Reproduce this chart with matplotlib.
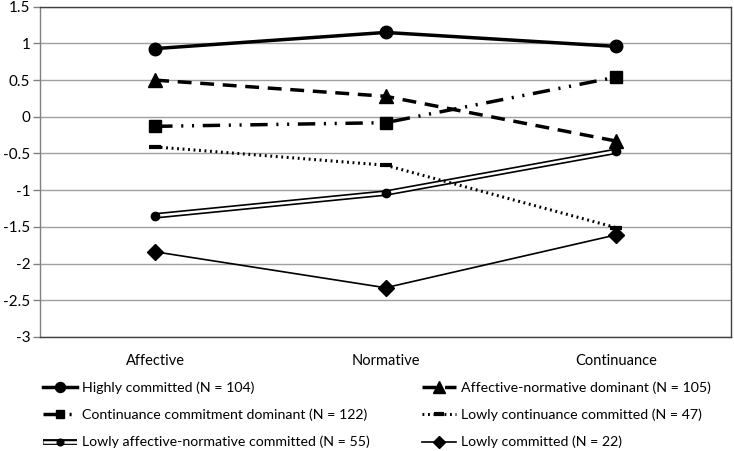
import matplotlib
matplotlib.use("Agg")
import matplotlib.pyplot as plt
from matplotlib.legend_handler import HandlerTuple

plt.rcParams['font.family'] = ['Lato', 'DejaVu Sans']

categories = ["Affective", "Normative", "Continuance"]
highly = [0.93, 1.15, 0.96]
aff_norm_dom = [0.50, 0.28, -0.33]
cont_dom = [-0.13, -0.08, 0.54]
lowly_cont = [-0.41, -0.66, -1.51]
lowly_aff_norm = [-1.35, -1.04, -0.47]
lowly = [-1.84, -2.33, -1.61]

labels = ["Highly committed (N = 104)",
          "Affective-normative dominant (N = 105)",
          "Continuance commitment dominant (N = 122)",
          "Lowly continuance committed (N = 47)",
          "Lowly affective-normative committed (N = 55)",
          "Lowly committed (N = 22)"]

yticks = [1.5, 1, 0.5, 0, -0.5, -1, -1.5, -2, -2.5, -3]
yticklabels = ["1.5", "1", "0.5", "0", "-0.5", "-1", "-1.5", "-2", "-2.5", "-3"]

fig = plt.figure(figsize=(7.34, 4.51), dpi=100)
ax = fig.add_axes([0.0545, 0.253, 0.9415, 0.732])
x = list(range(len(categories)))

h1, = ax.plot(x, highly, color='black', lw=2.5, marker='o', ms=9, zorder=5)
h2, = ax.plot(x, aff_norm_dom, color='black', lw=2.5, ls=(0, (4, 2.5)), marker='^', ms=10, zorder=5)
h3, = ax.plot(x, cont_dom, color='black', lw=2.5, ls=(0, (5, 2.5, 0.6, 2.5, 0.6, 2.5)), marker='s', ms=8, zorder=5)
h4, = ax.plot(x, lowly_cont, color='black', lw=2.2, ls=(0, (0.6, 1.2)), marker='_', ms=9, mew=3, zorder=5)
h5a, = ax.plot(x, lowly_aff_norm, color='black', lw=4.2, solid_capstyle='butt', zorder=4)
h5b, = ax.plot(x, lowly_aff_norm, color='white', lw=1.8, solid_capstyle='butt', zorder=4.5)
h5c, = ax.plot(x, lowly_aff_norm, color='black', lw=0, marker='o', ms=6, zorder=5)
h6, = ax.plot(x, lowly, color='black', lw=1.2, marker='D', ms=8, zorder=5)

ax.set_xlim(-0.5, 2.5)
ax.set_ylim(-3, 1.5)
ax.set_yticks(yticks)
ax.set_yticklabels(yticklabels, fontsize=11)
ax.set_xticks(x)
ax.set_xticklabels(categories, fontsize=10.5)
ax.tick_params(axis='x', length=0, pad=12)
ax.tick_params(axis='y', length=5, width=1, color='#808080', pad=2)
ax.yaxis.grid(True, color='#a0a0a0', lw=1)
ax.set_axisbelow(True)
for s in ax.spines.values():
    s.set_color('#404040')
    s.set_linewidth(1)
ax.spines['left'].set_color('#808080')

handles = [h1, h2, h3, h4, (h5a, h5b, h5c), h6]
common = dict(loc='upper left', frameon=False, fontsize=10.2, handlelength=2.4,
              handletextpad=0.35, labelspacing=1.05, borderaxespad=0, borderpad=0,
              markerscale=0.8, handler_map={tuple: HandlerTuple(ndivide=1)})
leg1 = fig.legend(handles[0::2], labels[0::2], bbox_to_anchor=(0.058, 0.155), **common)
leg2 = fig.legend(handles[1::2], labels[1::2], bbox_to_anchor=(0.575, 0.155), **common)

fig.savefig("out.png", dpi=100)
